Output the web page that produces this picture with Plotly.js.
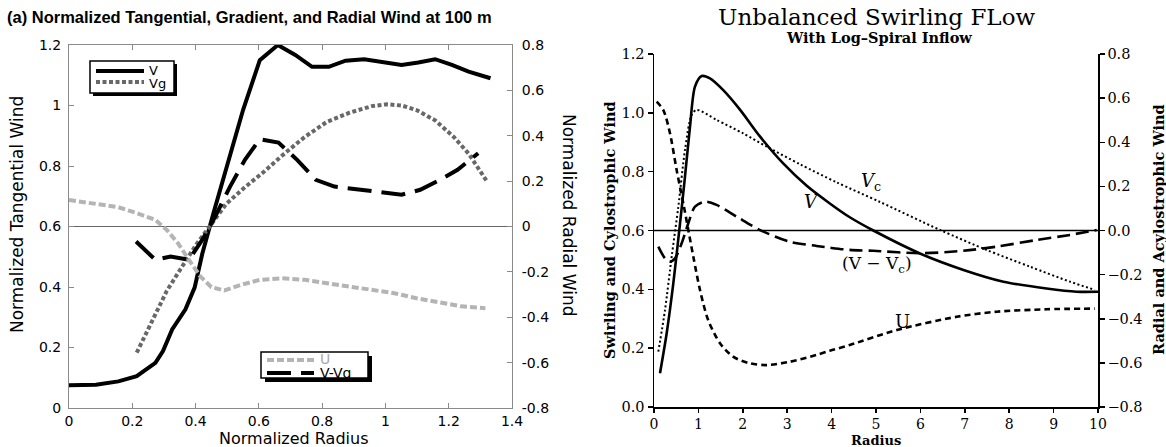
<!DOCTYPE html>
<html>
<head>
<meta charset="utf-8">
<script src="https://cdn.plot.ly/plotly-3.0.1.min.js"></script>
<style>html,body{margin:0;padding:0;background:#fff;}#chart{width:1166px;height:447px;}</style>
</head>
<body>
<div id="chart"></div>
<script>
// ---------- Left panel data (normalized radius) ----------
const rV_L = [0,0.085,0.156,0.214,0.273,0.297,0.326,0.368,0.397,0.421,0.456,0.497,0.55,0.603,0.66,0.715,0.768,0.821,0.874,0.933,0.992,1.051,1.104,1.157,1.21,1.263,1.332];
const V_L  = [0.075,0.077,0.088,0.105,0.149,0.188,0.26,0.326,0.398,0.509,0.642,0.796,0.985,1.15,1.2,1.167,1.128,1.128,1.148,1.153,1.142,1.134,1.142,1.153,1.134,1.112,1.09];

const rVg_L = [0.214,0.262,0.309,0.356,0.403,0.45,0.497,0.556,0.615,0.674,0.745,0.815,0.886,0.957,1.004,1.051,1.098,1.157,1.216,1.263,1.322];
const Vg_L  = [0.183,0.288,0.387,0.465,0.542,0.608,0.675,0.73,0.78,0.835,0.896,0.946,0.976,0.998,1.004,1.0,0.985,0.951,0.896,0.841,0.747];

const rU_L = [0,0.085,0.156,0.214,0.273,0.309,0.344,0.379,0.415,0.45,0.491,0.544,0.603,0.674,0.745,0.815,0.886,0.957,1.028,1.098,1.169,1.24,1.316];
const U_L  = [0.117,0.1,0.085,0.059,0.029,-0.015,-0.073,-0.147,-0.22,-0.267,-0.282,-0.257,-0.235,-0.228,-0.235,-0.25,-0.264,-0.276,-0.294,-0.316,-0.335,-0.352,-0.36];

const rVmVg_L = [0.212,0.273,0.321,0.379,0.421,0.462,0.509,0.556,0.603,0.662,0.721,0.78,0.839,0.91,0.992,1.051,1.11,1.169,1.228,1.293];
const VmVg_L  = [-0.066,-0.147,-0.132,-0.147,-0.059,0.044,0.176,0.294,0.385,0.37,0.294,0.206,0.176,0.164,0.147,0.14,0.162,0.203,0.25,0.323];

const leftY2TickVals = [0.8,0.6,0.4,0.2,0,-0.2,-0.4,-0.6,-0.8];
const leftY2TickText = ['0.8','0.6','0.4','0.2','0','-0.2','-0.4','-0.6','-0.8'];

// ---------- Right panel data (radius) ----------
const rV_R = [0.135,0.285,0.435,0.586,0.698,0.811,0.923,1.074,1.26,1.56,1.94,2.39,2.91,3.44,3.96,4.41,4.94,5.99,6.97,7.87,8.84,9.52,10];
const V_R  = [0.115,0.25,0.42,0.624,0.783,0.953,1.089,1.125,1.117,1.077,1.01,0.919,0.828,0.752,0.692,0.645,0.600,0.522,0.466,0.426,0.403,0.392,0.392];

const rVc_R = [0.097,0.248,0.398,0.548,0.698,0.848,0.961,1.41,2.01,2.54,3.29,4.11,5.09,6.44,7.49,8.47,9.37,9.93];
const Vc_R  = [0.188,0.33,0.511,0.681,0.874,0.993,1.01,0.976,0.93,0.885,0.825,0.764,0.697,0.602,0.534,0.477,0.426,0.398];

const rVmVc_R = [0.097,0.248,0.36,0.473,0.623,0.773,0.923,1.149,1.41,1.86,2.39,3.06,3.66,3.96,4.41,4.94,5.99,6.97,7.72,8.62,9.37,9.97];
const VmVc_R  = [-0.073,-0.126,-0.141,-0.126,-0.058,0.033,0.108,0.131,0.116,0.063,0.002,-0.051,-0.07,-0.078,-0.088,-0.092,-0.103,-0.092,-0.073,-0.043,-0.02,0.002];

const rU_R = [0.06,0.21,0.36,0.51,0.66,0.773,0.886,1.036,1.22,1.49,1.79,2.16,2.54,3.06,3.66,3.96,4.41,5.47,6.82,7.72,8.84,9.93];
const U_R  = [0.584,0.546,0.441,0.274,0.123,0.002,-0.119,-0.27,-0.406,-0.512,-0.573,-0.602,-0.61,-0.595,-0.564,-0.545,-0.519,-0.451,-0.391,-0.368,-0.357,-0.354];

// ---------- helpers ----------
const W = 1166, H = 447;
const px = x => x / W;
const py = y => 1 - y / H;

const sty = {
  V_L:    {color:'#000000', width:4, dash:'solid'},
  Vg_L:   {color:'#686868', width:4, dash:'4px,2.5px'},
  U_L:    {color:'#b4b4b4', width:4, dash:'7px,3px'},
  VmVg_L: {color:'#000000', width:4, dash:'24px,10px'},
  V_R:    {color:'#000000', width:2.6, dash:'solid', shape:'spline', smoothing:0.8},
  Vc_R:   {color:'#000000', width:2, dash:'2px,2.5px', shape:'spline', smoothing:0.8},
  VmVc_R: {color:'#000000', width:2.6, dash:'13px,6px', shape:'spline', smoothing:0.8},
  U_R:    {color:'#000000', width:2.6, dash:'6px,4px', shape:'spline', smoothing:0.8}
};

const tr = (x, y, xa, ya, s, name) => ({x, y, xaxis:xa, yaxis:ya, type:'scatter', mode:'lines', name, line:Object.assign({}, s), showlegend:false, hoverinfo:'skip'});

const data = [
  tr(rV_L, V_L, 'x', 'y', sty.V_L, 'V'),
  tr(rVg_L, Vg_L, 'x', 'y', sty.Vg_L, 'Vg'),
  tr(rU_L, U_L, 'x', 'y2', sty.U_L, 'U'),
  tr(rVmVg_L, VmVg_L, 'x', 'y2', sty.VmVg_L, 'V-Vg'),
  tr(rV_R, V_R, 'x2', 'y3', sty.V_R, 'V'),
  tr(rVc_R, Vc_R, 'x2', 'y3', sty.Vc_R, 'Vc'),
  tr(rVmVc_R, VmVc_R, 'x2', 'y4', sty.VmVc_R, 'V-Vc'),
  tr(rU_R, U_R, 'x2', 'y4', sty.U_R, 'U')
];

const sansL = 'DejaVu Sans, Verdana, sans-serif';
const serifR = 'DejaVu Serif, serif';
const gray = '#8a8a8a';
const legLine = s => ({color:s.color, width:s.width, dash:s.dash});

const shapes = [
  // zero lines (radial-wind axes)
  {type:'line', xref:'x domain', yref:'y2', x0:0, x1:1, y0:0, y1:0, line:{color:'#666', width:1}, layer:'below'},
  {type:'line', xref:'x2 domain', yref:'y4', x0:0, x1:1, y0:0, y1:0, line:{color:'#000', width:1.4}, layer:'below'},
  // legend 1
  {type:'rect', xref:'paper', yref:'paper', x0:px(93), x1:px(177), y0:py(96), y1:py(64), fillcolor:'#000', line:{width:0}},
  {type:'rect', xref:'paper', yref:'paper', x0:px(90), x1:px(174), y0:py(93), y1:py(61), fillcolor:'#fff', line:{color:'#000', width:1.5}},
  {type:'line', xref:'paper', yref:'paper', x0:px(96), x1:px(144), y0:py(71), y1:py(71), line:legLine(sty.V_L)},
  {type:'line', xref:'paper', yref:'paper', x0:px(96), x1:px(144), y0:py(82), y1:py(82), line:legLine(sty.Vg_L)},
  // legend 2
  {type:'rect', xref:'paper', yref:'paper', x0:px(265), x1:px(372), y0:py(382), y1:py(356), fillcolor:'#000', line:{width:0}},
  {type:'rect', xref:'paper', yref:'paper', x0:px(261), x1:px(368), y0:py(378), y1:py(352), fillcolor:'#fff', line:{color:'#000', width:1.5}},
  {type:'line', xref:'paper', yref:'paper', x0:px(267), x1:px(314), y0:py(360), y1:py(360), line:legLine(sty.U_L)},
  {type:'line', xref:'paper', yref:'paper', x0:px(267), x1:px(314), y0:py(373), y1:py(373), line:legLine(sty.VmVg_L)}
];

const pa = (x, y, text, font, extra) => Object.assign({xref:'paper', yref:'paper', x:px(x), y:py(y), text, showarrow:false, font, xanchor:'center', yanchor:'middle'}, extra || {});

const annotations = [
  pa(5, 17, '<b>(a) Normalized Tangential, Gradient, and Radial Wind at 100 m</b>', {family:'Liberation Sans, Arial, sans-serif', size:16.5, color:'#000'}, {xanchor:'left'}),
  pa(17, 215, 'Normalized Tangential Wind', {family:sansL, size:17, color:'#000'}, {textangle:-90}),
  pa(569, 215, 'Normalized Radial Wind', {family:sansL, size:17, color:'#000'}, {textangle:90}),
  pa(293, 438.5, 'Normalized Radius', {family:sansL, size:16, color:'#000'}),
  pa(147, 70, 'V', {family:sansL, size:13, color:'#000'}, {xanchor:'left'}),
  pa(147, 83, 'Vg', {family:sansL, size:13, color:'#000'}, {xanchor:'left'}),
  pa(318, 359, 'U', {family:sansL, size:14, color:'#a8a8a8'}, {xanchor:'left'}),
  pa(318, 373, 'V-Vg', {family:sansL, size:14, color:'#000'}, {xanchor:'left'}),

  pa(876, 17, 'Unbalanced Swirling FLow', {family:serifR, size:23, color:'#000'}),
  pa(879, 38, '<b>With Log–Spiral Inflow</b>', {family:serifR, size:14.5, color:'#000'}),
  pa(609, 230, '<b>Swirling and Cylostrophic Wind</b>', {family:serifR, size:14.5, color:'#000'}, {textangle:-90}),
  pa(1158, 230, '<b>Radial and Acylostrophic Wind</b>', {family:serifR, size:14.5, color:'#000'}, {textangle:-90}),
  pa(876, 440, '<b>Radius</b>', {family:serifR, size:13, color:'#000'}),

  {xref:'x2', yref:'y3', x:3.55, y:0.70, text:'<i>V</i>', showarrow:false, font:{family:serifR, size:18, color:'#000'}},
  {xref:'x2', yref:'y3', x:4.88, y:0.765, text:'<i>V</i><sub>c</sub>', showarrow:false, font:{family:serifR, size:18, color:'#000'}},
  {xref:'x2', yref:'y3', x:5.02, y:0.484, text:'(V − V<sub>c</sub>)', showarrow:false, font:{family:serifR, size:17, color:'#000'}},
  {xref:'x2', yref:'y3', x:5.6, y:0.29, text:'U', showarrow:false, font:{family:serifR, size:18, color:'#000'}}
];

const layout = {
  width: W, height: H,
  margin: {l:0, r:0, t:0, b:0, pad:0},
  paper_bgcolor: '#fff', plot_bgcolor: 'rgba(0,0,0,0)',
  showlegend: false,
  xaxis: {domain:[px(69), px(512)], anchor:'y', range:[0,1.4], dtick:0.2, tick0:0,
          showgrid:false, zeroline:false, showline:true, linecolor:gray, linewidth:1, mirror:'ticks',
          ticks:'inside', ticklen:5, tickcolor:gray, tickfont:{family:sansL, size:14, color:'#000'}, ticklabelstandoff:0},
  yaxis: {domain:[py(408), py(45)], anchor:'x', range:[0,1.2], dtick:0.2, tick0:0,
          showgrid:false, zeroline:false, showline:true, linecolor:gray, linewidth:1,
          ticks:'inside', ticklen:5, tickcolor:gray, tickfont:{family:sansL, size:14, color:'#000'}, ticklabelstandoff:4},
  yaxis2: {overlaying:'y', side:'right', anchor:'x', range:[-0.8,0.8], tickvals:leftY2TickVals, ticktext:leftY2TickText,
          showgrid:false, zeroline:false, showline:true, linecolor:gray, linewidth:1,
          ticks:'inside', ticklen:5, tickcolor:gray, tickfont:{family:sansL, size:14, color:'#000'}, ticklabelstandoff:6},
  xaxis2: {domain:[px(654), px(1098)], anchor:'y3', range:[0,10], dtick:1, tick0:0,
          showgrid:false, zeroline:false, showline:true, linecolor:'#000', linewidth:1.5,
          ticks:'outside', ticklen:4, tickcolor:'#000', tickwidth:1.5, tickfont:{family:serifR, size:14, color:'#000'}},
  yaxis3: {domain:[py(407), py(54)], anchor:'x2', range:[0,1.2], dtick:0.2, tick0:0, tickformat:'.1f',
          showgrid:false, zeroline:false, showline:true, linecolor:'#000', linewidth:1.5,
          ticks:'outside', ticklen:5, tickcolor:'#000', tickwidth:1.5, tickfont:{family:serifR, size:14.5, color:'#000'}},
  yaxis4: {overlaying:'y3', side:'right', anchor:'x2', range:[-0.8,0.8], dtick:0.2, tick0:0, tickformat:'.1f',
          showgrid:false, zeroline:false, showline:true, linecolor:'#000', linewidth:1.5,
          ticks:'outside', ticklen:5, tickcolor:'#000', tickwidth:1.5, tickfont:{family:serifR, size:14.5, color:'#000'}},
  shapes, annotations
};

Plotly.newPlot('chart', data, layout, {staticPlot:true, displayModeBar:false});
</script>
</body>
</html>
